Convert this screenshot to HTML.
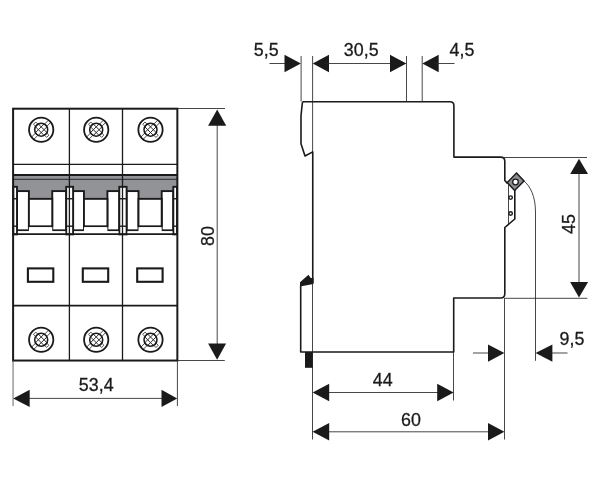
<!DOCTYPE html>
<html><head><meta charset="utf-8"><title>Dimensions</title>
<style>
html,body{margin:0;padding:0;background:#fff;}
body{width:600px;height:480px;overflow:hidden;font-family:"Liberation Sans",sans-serif;}
svg{display:block;}
text{font-family:"Liberation Sans",sans-serif;font-size:19px;fill:#1a1a1a;stroke:#1a1a1a;stroke-width:0.3;filter:grayscale(1);}
.m{stroke:#1a1a1a;stroke-width:1.9;fill:none;}
.w{fill:#fff;}
.s{stroke:#1a1a1a;stroke-width:1.6;fill:none;stroke-linejoin:round;}
.t{stroke:#262626;stroke-width:0.85;fill:none;}
.a{fill:#1a1a1a;stroke:none;}
</style></head><body>
<svg width="600" height="480" viewBox="0 0 600 480">
<rect width="600" height="480" fill="#fff"/>

<g id="front">
<rect x="13.1" y="175" width="164.25" height="24" fill="#929397"/>
<line x1="13.1" y1="179.4" x2="177.35" y2="179.4" stroke="#3c3c40" stroke-width="1.2"/>
<rect x="17.0" y="191.1" width="11.90" height="39.2" class="m w"/>
<rect x="52.25" y="191.1" width="13.95" height="39.2" class="m w"/>
<rect x="28.9" y="198.85" width="23.35" height="27.45" class="m w"/>
<rect x="28.9" y="227.2" width="23.35" height="6.3" class="w"/>
<rect x="73.1" y="191.1" width="10.85" height="39.2" class="m w"/>
<rect x="107.4" y="191.1" width="11.90" height="39.2" class="m w"/>
<rect x="83.95" y="198.85" width="23.45" height="27.45" class="m w"/>
<rect x="83.95" y="227.2" width="23.45" height="6.3" class="w"/>
<rect x="126.6" y="191.1" width="11.90" height="39.2" class="m w"/>
<rect x="161.7" y="191.1" width="11.60" height="39.2" class="m w"/>
<rect x="138.5" y="198.85" width="23.20" height="27.45" class="m w"/>
<rect x="138.5" y="227.2" width="23.20" height="6.3" class="w"/>
<rect x="13.3" y="186.8" width="3.70" height="47.6" class="m w"/>
<line x1="13.3" y1="198.75" x2="17.0" y2="198.75" style="stroke-width:1.4" class="m"/>
<line x1="13.3" y1="226.2" x2="17.0" y2="226.2" style="stroke-width:1.4" class="m"/>
<rect x="66.2" y="186.8" width="6.90" height="47.6" class="m w"/>
<line x1="66.2" y1="198.75" x2="73.1" y2="198.75" style="stroke-width:1.4" class="m"/>
<line x1="66.2" y1="226.2" x2="73.1" y2="226.2" style="stroke-width:1.4" class="m"/>
<rect x="119.3" y="186.8" width="7.30" height="47.6" class="m w"/>
<line x1="119.3" y1="198.75" x2="126.6" y2="198.75" style="stroke-width:1.4" class="m"/>
<line x1="119.3" y1="226.2" x2="126.6" y2="226.2" style="stroke-width:1.4" class="m"/>
<rect x="173.3" y="186.8" width="3.70" height="47.6" class="m w"/>
<line x1="173.3" y1="198.75" x2="177.0" y2="198.75" style="stroke-width:1.4" class="m"/>
<line x1="173.3" y1="226.2" x2="177.0" y2="226.2" style="stroke-width:1.4" class="m"/>
<rect x="17.9" y="231.3" width="47.40" height="2.1" class="w"/>
<rect x="74.0" y="231.3" width="44.40" height="2.1" class="w"/>
<rect x="127.5" y="231.3" width="44.90" height="2.1" class="w"/>
<line x1="13.1" y1="164.4" x2="177.35" y2="164.4" style="stroke-width:1.3" class="m"/>
<line x1="13.1" y1="175" x2="177.35" y2="175" style="stroke-width:1.9" class="m"/>
<line x1="13.1" y1="234.15" x2="177.35" y2="234.15" style="stroke-width:1.8" class="m"/>
<line x1="13.1" y1="305.6" x2="177.35" y2="305.6" style="stroke-width:1.6" class="m"/>
<rect x="13.1" y="108.7" width="164.25" height="251.85" style="stroke-width:2.0" class="m"/>
<line x1="69.4" y1="108.7" x2="69.4" y2="360.55" style="stroke-width:1.3" class="m"/>
<line x1="122.5" y1="108.7" x2="122.5" y2="360.55" style="stroke-width:1.3" class="m"/>
<rect x="27.9" y="268.4" width="25.4" height="13.4" style="stroke-width:2.1" class="m w"/>
<rect x="82.8" y="268.4" width="25.4" height="13.4" style="stroke-width:2.1" class="m w"/>
<rect x="137.2" y="268.4" width="25.4" height="13.4" style="stroke-width:2.1" class="m w"/>
<g transform="translate(41.2,129.7)">
<clipPath id="c0"><circle r="6.5"/></clipPath>
<g transform="rotate(-45)">
<line x1="-12" y1="-1.6" x2="12" y2="-1.6" stroke="#2a2a2a" stroke-width="0.8"/>
<line x1="-12" y1="1.6" x2="12" y2="1.6" stroke="#2a2a2a" stroke-width="0.8"/>
<path d="M-1.6,-6.4 L-1.6,-9.3 L1.6,-9.3 L1.6,-6.4" stroke="#333" stroke-width="0.8" fill="none"/>
<path d="M-1.6,6.4 L-1.6,9.3 L1.6,9.3 L1.6,6.4" stroke="#333" stroke-width="0.8" fill="none"/>
</g>
<circle r="6.5" fill="#fff"/>
<g clip-path="url(#c0)" stroke="#2a2a2a" stroke-width="1.0">
<line x1="-18.50" y1="-10" x2="1.50" y2="10"/>
<line x1="-18.50" y1="10" x2="1.50" y2="-10"/>
<line x1="-12.83" y1="-10" x2="7.17" y2="10"/>
<line x1="-12.83" y1="10" x2="7.17" y2="-10"/>
<line x1="-7.17" y1="-10" x2="12.83" y2="10"/>
<line x1="-7.17" y1="10" x2="12.83" y2="-10"/>
<line x1="-1.50" y1="-10" x2="18.50" y2="10"/>
<line x1="-1.50" y1="10" x2="18.50" y2="-10"/>
</g>
<circle r="6.5" style="stroke-width:1.55" class="m"/>
<circle r="12.15" style="stroke-width:1.8" class="m"/>
</g>
<g transform="translate(41.2,339.8)">
<clipPath id="c1"><circle r="6.5"/></clipPath>
<g transform="rotate(-45)">
<line x1="-12" y1="-1.6" x2="12" y2="-1.6" stroke="#2a2a2a" stroke-width="0.8"/>
<line x1="-12" y1="1.6" x2="12" y2="1.6" stroke="#2a2a2a" stroke-width="0.8"/>
<path d="M-1.6,-6.4 L-1.6,-9.3 L1.6,-9.3 L1.6,-6.4" stroke="#333" stroke-width="0.8" fill="none"/>
<path d="M-1.6,6.4 L-1.6,9.3 L1.6,9.3 L1.6,6.4" stroke="#333" stroke-width="0.8" fill="none"/>
</g>
<circle r="6.5" fill="#fff"/>
<g clip-path="url(#c1)" stroke="#2a2a2a" stroke-width="1.0">
<line x1="-18.50" y1="-10" x2="1.50" y2="10"/>
<line x1="-18.50" y1="10" x2="1.50" y2="-10"/>
<line x1="-12.83" y1="-10" x2="7.17" y2="10"/>
<line x1="-12.83" y1="10" x2="7.17" y2="-10"/>
<line x1="-7.17" y1="-10" x2="12.83" y2="10"/>
<line x1="-7.17" y1="10" x2="12.83" y2="-10"/>
<line x1="-1.50" y1="-10" x2="18.50" y2="10"/>
<line x1="-1.50" y1="10" x2="18.50" y2="-10"/>
</g>
<circle r="6.5" style="stroke-width:1.55" class="m"/>
<circle r="12.15" style="stroke-width:1.8" class="m"/>
</g>
<g transform="translate(96.2,129.7)">
<clipPath id="c2"><circle r="6.5"/></clipPath>
<g transform="rotate(-45)">
<line x1="-12" y1="-1.6" x2="12" y2="-1.6" stroke="#2a2a2a" stroke-width="0.8"/>
<line x1="-12" y1="1.6" x2="12" y2="1.6" stroke="#2a2a2a" stroke-width="0.8"/>
<path d="M-1.6,-6.4 L-1.6,-9.3 L1.6,-9.3 L1.6,-6.4" stroke="#333" stroke-width="0.8" fill="none"/>
<path d="M-1.6,6.4 L-1.6,9.3 L1.6,9.3 L1.6,6.4" stroke="#333" stroke-width="0.8" fill="none"/>
</g>
<circle r="6.5" fill="#fff"/>
<g clip-path="url(#c2)" stroke="#2a2a2a" stroke-width="1.0">
<line x1="-18.50" y1="-10" x2="1.50" y2="10"/>
<line x1="-18.50" y1="10" x2="1.50" y2="-10"/>
<line x1="-12.83" y1="-10" x2="7.17" y2="10"/>
<line x1="-12.83" y1="10" x2="7.17" y2="-10"/>
<line x1="-7.17" y1="-10" x2="12.83" y2="10"/>
<line x1="-7.17" y1="10" x2="12.83" y2="-10"/>
<line x1="-1.50" y1="-10" x2="18.50" y2="10"/>
<line x1="-1.50" y1="10" x2="18.50" y2="-10"/>
</g>
<circle r="6.5" style="stroke-width:1.55" class="m"/>
<circle r="12.15" style="stroke-width:1.8" class="m"/>
</g>
<g transform="translate(96.2,339.8)">
<clipPath id="c3"><circle r="6.5"/></clipPath>
<g transform="rotate(-45)">
<line x1="-12" y1="-1.6" x2="12" y2="-1.6" stroke="#2a2a2a" stroke-width="0.8"/>
<line x1="-12" y1="1.6" x2="12" y2="1.6" stroke="#2a2a2a" stroke-width="0.8"/>
<path d="M-1.6,-6.4 L-1.6,-9.3 L1.6,-9.3 L1.6,-6.4" stroke="#333" stroke-width="0.8" fill="none"/>
<path d="M-1.6,6.4 L-1.6,9.3 L1.6,9.3 L1.6,6.4" stroke="#333" stroke-width="0.8" fill="none"/>
</g>
<circle r="6.5" fill="#fff"/>
<g clip-path="url(#c3)" stroke="#2a2a2a" stroke-width="1.0">
<line x1="-18.50" y1="-10" x2="1.50" y2="10"/>
<line x1="-18.50" y1="10" x2="1.50" y2="-10"/>
<line x1="-12.83" y1="-10" x2="7.17" y2="10"/>
<line x1="-12.83" y1="10" x2="7.17" y2="-10"/>
<line x1="-7.17" y1="-10" x2="12.83" y2="10"/>
<line x1="-7.17" y1="10" x2="12.83" y2="-10"/>
<line x1="-1.50" y1="-10" x2="18.50" y2="10"/>
<line x1="-1.50" y1="10" x2="18.50" y2="-10"/>
</g>
<circle r="6.5" style="stroke-width:1.55" class="m"/>
<circle r="12.15" style="stroke-width:1.8" class="m"/>
</g>
<g transform="translate(150.5,129.7)">
<clipPath id="c4"><circle r="6.5"/></clipPath>
<g transform="rotate(-45)">
<line x1="-12" y1="-1.6" x2="12" y2="-1.6" stroke="#2a2a2a" stroke-width="0.8"/>
<line x1="-12" y1="1.6" x2="12" y2="1.6" stroke="#2a2a2a" stroke-width="0.8"/>
<path d="M-1.6,-6.4 L-1.6,-9.3 L1.6,-9.3 L1.6,-6.4" stroke="#333" stroke-width="0.8" fill="none"/>
<path d="M-1.6,6.4 L-1.6,9.3 L1.6,9.3 L1.6,6.4" stroke="#333" stroke-width="0.8" fill="none"/>
</g>
<circle r="6.5" fill="#fff"/>
<g clip-path="url(#c4)" stroke="#2a2a2a" stroke-width="1.0">
<line x1="-18.50" y1="-10" x2="1.50" y2="10"/>
<line x1="-18.50" y1="10" x2="1.50" y2="-10"/>
<line x1="-12.83" y1="-10" x2="7.17" y2="10"/>
<line x1="-12.83" y1="10" x2="7.17" y2="-10"/>
<line x1="-7.17" y1="-10" x2="12.83" y2="10"/>
<line x1="-7.17" y1="10" x2="12.83" y2="-10"/>
<line x1="-1.50" y1="-10" x2="18.50" y2="10"/>
<line x1="-1.50" y1="10" x2="18.50" y2="-10"/>
</g>
<circle r="6.5" style="stroke-width:1.55" class="m"/>
<circle r="12.15" style="stroke-width:1.8" class="m"/>
</g>
<g transform="translate(150.5,339.8)">
<clipPath id="c5"><circle r="6.5"/></clipPath>
<g transform="rotate(-45)">
<line x1="-12" y1="-1.6" x2="12" y2="-1.6" stroke="#2a2a2a" stroke-width="0.8"/>
<line x1="-12" y1="1.6" x2="12" y2="1.6" stroke="#2a2a2a" stroke-width="0.8"/>
<path d="M-1.6,-6.4 L-1.6,-9.3 L1.6,-9.3 L1.6,-6.4" stroke="#333" stroke-width="0.8" fill="none"/>
<path d="M-1.6,6.4 L-1.6,9.3 L1.6,9.3 L1.6,6.4" stroke="#333" stroke-width="0.8" fill="none"/>
</g>
<circle r="6.5" fill="#fff"/>
<g clip-path="url(#c5)" stroke="#2a2a2a" stroke-width="1.0">
<line x1="-18.50" y1="-10" x2="1.50" y2="10"/>
<line x1="-18.50" y1="10" x2="1.50" y2="-10"/>
<line x1="-12.83" y1="-10" x2="7.17" y2="10"/>
<line x1="-12.83" y1="10" x2="7.17" y2="-10"/>
<line x1="-7.17" y1="-10" x2="12.83" y2="10"/>
<line x1="-7.17" y1="10" x2="12.83" y2="-10"/>
<line x1="-1.50" y1="-10" x2="18.50" y2="10"/>
<line x1="-1.50" y1="10" x2="18.50" y2="-10"/>
</g>
<circle r="6.5" style="stroke-width:1.55" class="m"/>
<circle r="12.15" style="stroke-width:1.8" class="m"/>
</g>
</g>
<g id="fd">
<line x1="177.35" y1="108.5" x2="225" y2="108.5" class="t"/>
<line x1="177.35" y1="360.5" x2="224.8" y2="360.5" class="t"/>
<line x1="217.2" y1="120" x2="217.2" y2="348" class="t"/>
<polygon points="217.2,109.5 208.1,125.7 226.2,125.7" class="a"/>
<polygon points="217.1,359.7 208.1,343.6 226.1,343.6" class="a"/>
<text transform="translate(213.8,236) rotate(-90) scale(0.94,1)" text-anchor="middle">80</text>
<line x1="13.05" y1="360.55" x2="13.05" y2="406" style="stroke:#4a4a4a" class="t"/>
<line x1="177.4" y1="360.55" x2="177.4" y2="406" class="t"/>
<line x1="25" y1="398.4" x2="165" y2="398.4" class="t"/>
<polygon points="13.2,398.4 29.7,389.8 29.7,407" class="a"/>
<polygon points="177.2,398.4 161.5,389.8 161.5,407" class="a"/>
<text transform="translate(96.2,390.7) scale(0.94,1)" text-anchor="middle">53,4</text>
</g>
<g id="side">
<path class="s" d="M302.6,101.75 L450,101.75 Q453.9,101.75 453.9,105.6 L453.9,157.1 L500.5,157.1 Q504.8,157.1 504.8,161.3 L504.8,180.5 L507.4,183.4"/>
<path class="s" d="M302.6,101.75 L302.1,105 L301,116 L301,143.8 L305,156 L312.75,151.9 L312.75,283"/>
<path class="s" d="M300.7,285 L300.7,352 L453.7,352 L453.7,298 L500.8,298 Q504.8,298 504.8,293.8 L504.8,227.5 L514.8,219 L514.8,190"/>
<polygon class="a" points="300,286.6 300,282.3 308.5,274.8 310.7,278 313.5,278 313.5,284.1"/>
<rect x="305" y="352" width="8" height="15.8" class="a"/>
<polygon points="516.5,173 524,181 514.6,190.5 507.2,182.6" fill="#8c8d91" stroke="#1a1a1a" stroke-width="1.5" stroke-linejoin="miter"/>
<circle cx="515.5" cy="182" r="2.8" fill="#fff" stroke="#1a1a1a" stroke-width="1.3"/>
<line x1="508.5" y1="185" x2="508.5" y2="224" class="t"/>
<circle cx="510.6" cy="197.6" r="1.75" style="stroke-width:1.45;stroke:#1a1a1a;fill:#fff" class="t"/>
<circle cx="510.6" cy="213.5" r="1.75" style="stroke-width:1.45;stroke:#1a1a1a;fill:#fff" class="t"/>
<path class="t" d="M524,181 C530,186 535.5,196 535.5,212 L535.5,360.8"/>
</g>
<g id="sd">
<line x1="301.1" y1="56" x2="301.1" y2="101.5" class="t"/>
<line x1="312.6" y1="56" x2="312.6" y2="101.5" class="t"/>
<line x1="312.6" y1="101.5" x2="312.6" y2="152" class="t"/>
<line x1="406.5" y1="56" x2="406.5" y2="101.5" class="t"/>
<line x1="422.2" y1="56" x2="422.2" y2="101.5" class="t"/>
<line x1="269.5" y1="63.5" x2="290" y2="63.5" class="t"/>
<polygon points="300.9,63.5 284.5,54.8 284.5,72.2" class="a"/>
<polygon points="312.7,63.5 329,54.8 329,72.2" class="a"/>
<line x1="325" y1="63.5" x2="395" y2="63.5" class="t"/>
<polygon points="406.4,63.5 390,54.8 390,72.2" class="a"/>
<polygon points="422.3,63.5 438.7,54.8 438.7,72.2" class="a"/>
<line x1="435" y1="63.5" x2="454.5" y2="63.5" class="t"/>
<text transform="translate(266.2,55.7) scale(0.94,1)" text-anchor="middle">5,5</text>
<text transform="translate(361.2,55.7) scale(0.94,1)" text-anchor="middle">30,5</text>
<text transform="translate(462,55.8) scale(0.94,1)" text-anchor="middle">4,5</text>
<line x1="503" y1="157.5" x2="587" y2="157.5" class="t"/>
<line x1="505" y1="298.3" x2="587.3" y2="298.3" class="t"/>
<line x1="579.0" y1="170" x2="579.0" y2="285" class="t"/>
<polygon points="579.0,158.8 570.2,174 588,174" class="a"/>
<polygon points="579.0,297.6 570.1,282.1 588.1,282.1" class="a"/>
<text transform="translate(574.6,224) rotate(-90) scale(0.94,1)" text-anchor="middle">45</text>
<line x1="312.5" y1="283" x2="312.5" y2="439.5" class="t"/>
<line x1="453.5" y1="352" x2="453.5" y2="400.5" class="t"/>
<line x1="504.5" y1="298" x2="504.5" y2="439.5" class="t"/>
<line x1="325" y1="392.5" x2="440" y2="392.5" class="t"/>
<polygon points="312.6,392.5 329.2,383.8 329.2,401.2" class="a"/>
<polygon points="453.6,392.5 437.2,383.8 437.2,401.2" class="a"/>
<text transform="translate(382.8,385.8) scale(0.94,1)" text-anchor="middle">44</text>
<line x1="325" y1="431.8" x2="492" y2="431.8" class="t"/>
<polygon points="312.6,431.8 329.2,423 329.2,440.5" class="a"/>
<polygon points="504.4,431.8 488,423 488,440.5" class="a"/>
<text transform="translate(410.9,426.2) scale(0.94,1)" text-anchor="middle">60</text>
<line x1="473" y1="353" x2="490" y2="353" class="t"/>
<polygon points="504.4,353 488,344.4 488,361.8" class="a"/>
<polygon points="535.6,353 552.4,344.4 552.4,361.8" class="a"/>
<line x1="550" y1="353" x2="567.5" y2="353" class="t"/>
<text transform="translate(572,344.6) scale(0.94,1)" text-anchor="middle">9,5</text>
</g>
</svg>
</body></html>
